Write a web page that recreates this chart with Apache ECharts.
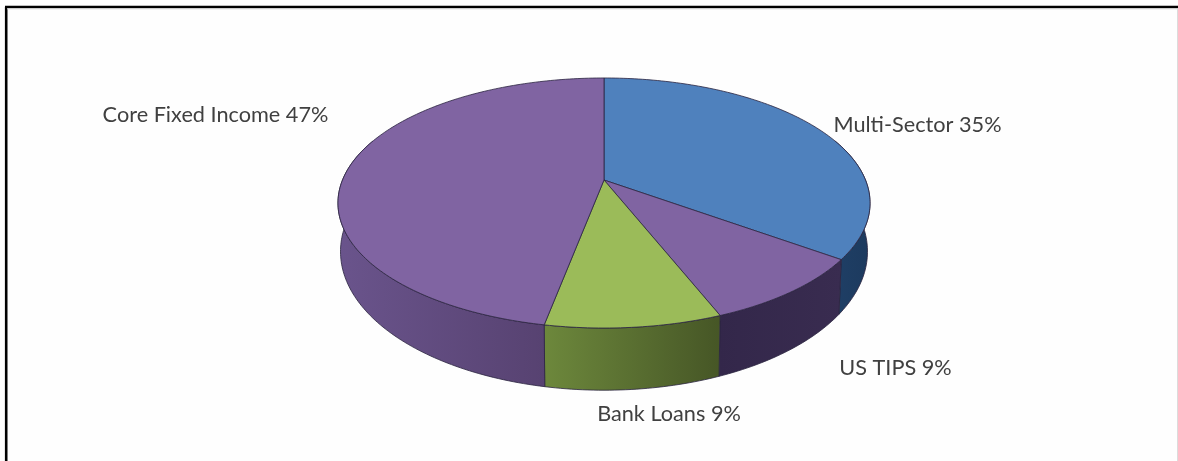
<!DOCTYPE html>
<html>
<head>
<meta charset="utf-8">
<style>html,body{margin:0;padding:0;background:#fefefe}#chart{width:1178px;height:461px}</style>
<script src="https://cdn.jsdelivr.net/npm/echarts@6/dist/echarts.min.js"></script>
</head>
<body>
<div id="chart"></div>
<script>
// Data, clockwise from twelve o'clock
const categories = ['Multi-Sector', 'US TIPS', 'Bank Loans', 'Core Fixed Income'];
const shares = [35, 9, 9, 47];

// Styles and layout, one entry per category
const topColors = ['#4f81bd', '#8064a2', '#9bbb59', '#8064a2'];
const wallGradients = [
  ['#1f3f66', '#1c3a5e'],
  ['#33274a', '#392c50'],
  ['#6d883c', '#465626'],
  ['#6a548c', '#574271']
];
const labelCenters = [[215.5, 115], [895.5, 368], [669, 414], [917.5, 125]];
const labelOrder = [3, 1, 2, 0];

// Perspective projection of the two disc faces, in pixels
const topFace = { cx: 604, cy: 180, rx: 261.5, ry: 120.8, k: -0.184 };
const bottomFace = { cx: 604, cy: 226, rx: 259, ry: 134, k: -0.184 };
const EDGE = '#2b2540';

function project(face, deg) {
  const t = deg * Math.PI / 180, u = Math.sin(t), v = -Math.cos(t), d = 1 + face.k * v;
  return [face.cx + face.rx * u / d, face.cy + face.ry * v / d];
}
function arc(face, from, to) {
  const pts = [], n = Math.max(2, Math.ceil(Math.abs(to - from)));
  for (let i = 0; i <= n; i++) pts.push(project(face, from + (to - from) * i / n));
  return pts;
}
const total = shares.reduce((a, b) => a + b, 0);

function renderSlice(params, api) {
  const i = params.dataIndex;
  const before = shares.slice(0, i).reduce((a, b) => a + b, 0);
  const start = before / total * 360, end = (before + shares[i]) / total * 360;
  const toPx = p => api.coord(p);
  const children = [];

  // The side wall shows only on the front of the disc; its far ends run under the top face.
  const wallFrom = Math.max(start, 70), wallTo = Math.min(end, 290);
  if (wallTo > wallFrom) {
    const pts = arc(topFace, wallFrom, wallTo).concat(arc(bottomFace, wallTo, wallFrom)).map(toPx);
    const g = wallGradients[i];
    children.push({
      type: 'polygon', z2: 1, shape: { points: pts },
      style: {
        fill: { type: 'linear', x: 0, y: 0, x2: 1, y2: 0, colorStops: [{ offset: 0, color: g[0] }, { offset: 1, color: g[1] }] },
        stroke: EDGE, lineWidth: 0.8
      }
    });
  }

  const face = [[topFace.cx, topFace.cy]].concat(arc(topFace, start, end)).map(toPx);
  children.push({
    type: 'polygon', z2: 2, shape: { points: face },
    style: { fill: topColors[i], stroke: EDGE, lineWidth: 0.8, lineJoin: 'round' }
  });

  const c = toPx(labelCenters[labelOrder[i]]);
  children.push({
    type: 'text', z2: 3,
    style: {
      x: c[0], y: c[1], text: categories[i] + ' ' + shares[i] + '%',
      align: 'center', verticalAlign: 'middle',
      font: '21.7px Lato, "Open Sans", sans-serif', fill: '#404040'
    }
  });
  return { type: 'group', children };
}

const chart = echarts.init(document.getElementById('chart'), null, { renderer: 'canvas' });
chart.setOption({
  animation: false,
  backgroundColor: '#fefefe',
  grid: { left: 0, right: 0, top: 0, bottom: 0 },
  xAxis: { type: 'value', min: 0, max: 1178, show: false },
  yAxis: { type: 'value', min: 0, max: 461, inverse: true, show: false },
  graphic: [
    { type: 'line', shape: { x1: 6.2, y1: 7, x2: 6.2, y2: 461 }, style: { stroke: '#000', lineWidth: 2.6 } },
    { type: 'line', shape: { x1: 5, y1: 7, x2: 1178, y2: 7 }, style: { stroke: '#000', lineWidth: 2.6 } },
    { type: 'line', shape: { x1: 7, y1: 8.8, x2: 1178, y2: 8.8 }, style: { stroke: '#cfcfcf', lineWidth: 1 } },
    { type: 'line', shape: { x1: 1177.5, y1: 9, x2: 1177.5, y2: 461 }, style: { stroke: '#dcdcdc', lineWidth: 1 } }
  ],
  series: [{
    type: 'custom',
    coordinateSystem: 'cartesian2d',
    clip: false,
    renderItem: renderSlice,
    data: categories.map((name, i) => ({ name, value: [i, shares[i]] }))
  }]
});
</script>
</body>
</html>
